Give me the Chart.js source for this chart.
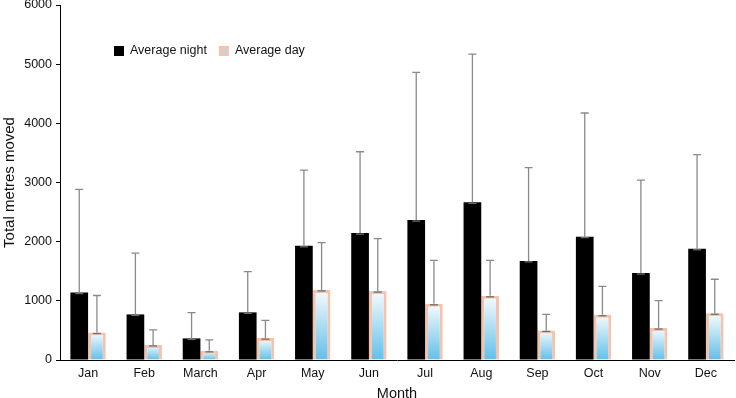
<!DOCTYPE html>
<html>
<head>
<meta charset="utf-8">
<script src="https://cdn.jsdelivr.net/npm/chart.js@4"></script>
<style>
  html, body { margin: 0; padding: 0; background: #fff; }
  #wrap { width: 736px; height: 398px; }
</style>
</head>
<body>
<div id="wrap"><canvas id="c"></canvas></div>
<script>
// data
const months = ["Jan", "Feb", "March", "Apr", "May", "Jun", "Jul", "Aug", "Sep", "Oct", "Nov", "Dec"];
const nightAvg = [1140, 770, 365, 805, 1930, 2145, 2365, 2665, 1675, 2085, 1470, 1880];
const nightErr = [1745, 1035, 435, 690, 1280, 1375, 2495, 2505, 1575, 2090, 1570, 1590];
const dayAvg = [465, 255, 155, 370, 1185, 1165, 950, 1085, 500, 765, 540, 790];
const dayErr = [625, 255, 185, 300, 800, 885, 735, 600, 270, 480, 465, 575];
const yTicks = [0, 1000, 2000, 3000, 4000, 5000, 6000];

const FONT = "'Liberation Sans', Arial, Helvetica, sans-serif";
const dayBorder = "#f5c3ab";
const dayBlue = "#62bfe8";

// upper error bars, drawn through the y scale
const errorBars = {
    id: "errorBars",
    afterDatasetsDraw(chart) {
        const ctx = chart.ctx, y = chart.scales.y;
        chart.data.datasets.forEach((ds, i) => {
            const meta = chart.getDatasetMeta(i);
            if (meta.hidden) return;
            meta.data.forEach((bar, j) => {
                const v = ds.data[j], e = ds.errors[j];
                const x = bar.x;
                const y0 = y.getPixelForValue(v), y1 = y.getPixelForValue(v + e);
                ctx.save();
                ctx.strokeStyle = "#8a8a8a";
                ctx.lineWidth = 1.3;
                ctx.beginPath();
                ctx.moveTo(x, y0);
                ctx.lineTo(x, y1);
                ctx.moveTo(x - 4, y1);
                ctx.lineTo(x + 4, y1);
                ctx.stroke();
                ctx.strokeStyle = "#6e6e6e";
                ctx.beginPath();
                ctx.moveTo(x - 4, y0 + 1);
                ctx.lineTo(x + 4, y0 + 1);
                ctx.stroke();
                ctx.restore();
            });
        });
    }
};

// legend sitting inside the plot area, top left
const innerLegend = {
    id: "innerLegend",
    afterDraw(chart) {
        const ctx = chart.ctx, area = chart.chartArea;
        let x = area.left + 54;
        const cy = area.top + 46;
        ctx.save();
        ctx.font = "12.5px " + FONT;
        ctx.textBaseline = "middle";
        chart.data.datasets.forEach((ds, i) => {
            if (i === 0) {
                ctx.fillStyle = "#000";
                ctx.fillRect(x, cy - 5, 10, 10);
            } else {
                ctx.fillStyle = dayBorder;
                ctx.fillRect(x, cy - 5, 10, 10);
                ctx.fillStyle = "#a9dcf2";
                ctx.fillRect(x + 3, cy - 2, 4, 4);
            }
            x += 16;
            ctx.fillStyle = "#111";
            ctx.fillText(ds.label, x, cy);
            x += ctx.measureText(ds.label).width + 12;
        });
        ctx.restore();
    }
};

new Chart(document.getElementById("c"), {
    type: "bar",
    data: {
        labels: months,
        datasets: [
            {
                label: "Average night",
                data: nightAvg,
                errors: nightErr,
                backgroundColor: "#000",
                borderWidth: 0
            },
            {
                label: "Average day",
                data: dayAvg,
                errors: dayErr,
                borderColor: dayBorder,
                borderWidth: 3,
                backgroundColor: c => {
                    const y = c.chart.scales.y;
                    if (!y || !c.parsed) return dayBlue;
                    const top = y.getPixelForValue(c.parsed.y), base = y.getPixelForValue(0);
                    if (!isFinite(top) || !isFinite(base) || top === base) return dayBlue;
                    const g = c.chart.ctx.createLinearGradient(0, top, 0, base);
                    g.addColorStop(0, "#f7fbfe");
                    g.addColorStop(1, dayBlue);
                    return g;
                }
            }
        ]
    },
    options: {
        responsive: true,
        maintainAspectRatio: false,
        animation: false,
        layout: { padding: { top: 5, right: 2, left: 0, bottom: 0 } },
        datasets: {
            bar: { categoryPercentage: 0.63, barPercentage: 1.0 }
        },
        plugins: {
            legend: { display: false },
            tooltip: { enabled: false }
        },
        scales: {
            x: {
                grid: { display: false, drawTicks: false },
                border: { display: true, color: "#000", width: 1 },
                ticks: { color: "#111", font: { family: FONT, size: 12.5 }, padding: 6 },
                title: {
                    display: true,
                    text: "Month",
                    color: "#111",
                    font: { family: FONT, size: 14.5, lineHeight: 1 },
                    padding: { top: 0, bottom: -3 }
                },
                afterFit: s => { s.height = 38; }
            },
            y: {
                min: 0,
                max: 6000,
                afterBuildTicks: s => { s.ticks = yTicks.map(v => ({ value: v })); },
                grid: { display: true, drawOnChartArea: false, drawTicks: true, tickLength: 4, color: "#000" },
                border: { display: true, color: "#000", width: 1 },
                ticks: {
                    color: "#111",
                    font: { family: FONT, size: 12.5 },
                    padding: 4,
                    callback: v => String(v)
                },
                title: {
                    display: true,
                    text: "Total metres moved",
                    color: "#111",
                    font: { family: FONT, size: 15 },
                    padding: { top: 1, bottom: 0 }
                },
                afterFit: s => {
                    s.width = 60;
                    s.paddingTop = 0;
                    s.paddingBottom = 0;
                }
            }
        }
    },
    plugins: [errorBars, innerLegend]
});
</script>
</body>
</html>
